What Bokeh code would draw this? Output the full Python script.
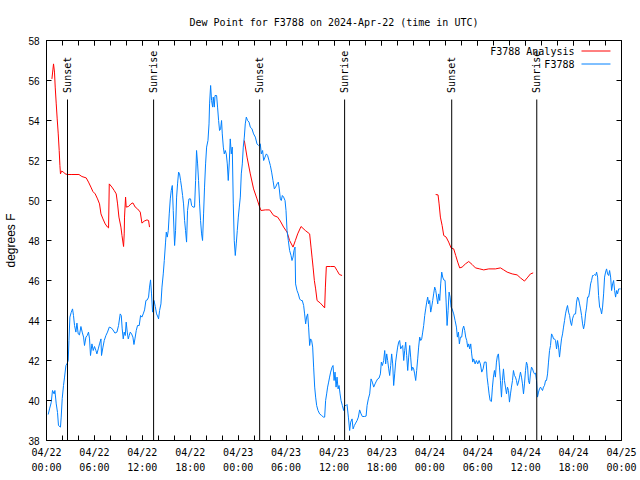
import math
from bokeh.plotting import figure
from bokeh.models import Range1d, FixedTicker, LinearAxis
from bokeh.core.properties import value
from bokeh.embed import file_html
from bokeh.resources import INLINE

# ---------------- data ----------------
TITLE = "Dew Point for F3788 on 2024-Apr-22 (time in UTC)"
Y_LABEL = "degrees F"
SERIES_NAMES = ["F3788 Analysis", "F3788"]

# x is hours since 2024-04-22 00:00 UTC
X_TICK_HOURS = [0, 6, 12, 18, 24, 30, 36, 42, 48, 54, 60, 66, 72]
X_TICK_LABELS = ["04/22\n00:00", "04/22\n06:00", "04/22\n12:00", "04/22\n18:00",
                 "04/23\n00:00", "04/23\n06:00", "04/23\n12:00", "04/23\n18:00",
                 "04/24\n00:00", "04/24\n06:00", "04/24\n12:00", "04/24\n18:00",
                 "04/25\n00:00"]
X_MINOR_HOURS = list(range(0, 73, 2))
Y_TICKS = [38, 40, 42, 44, 46, 48, 50, 52, 54, 56, 58]

SUN_HOURS = [2.63, 13.41, 26.69, 37.33, 50.74, 61.39]
SUN_LABELS = ["Sunset", "Sunrise", "Sunset", "Sunrise", "Sunset", "Sunrise"]

OBS_HOURS = [
    0.21, 0.38, 0.59, 0.75, 0.96, 1.05, 1.22, 1.38, 1.50, 1.75, 1.84, 1.97, 2.13, 2.26, 2.43, 2.56,
    2.72, 2.81, 2.93, 3.09, 3.26, 3.38, 3.51, 3.68, 3.81, 3.97, 4.13, 4.31, 4.47, 4.64, 4.76, 4.94,
    5.10, 5.26, 5.39, 5.51, 5.69, 5.85, 6.01, 6.19, 6.31, 6.48, 6.64, 6.82, 6.89, 7.07, 7.23, 7.44,
    7.64, 7.86, 8.11, 8.32, 8.57, 8.82, 9.02, 9.23, 9.36, 9.48, 9.61, 9.73, 9.86, 9.98, 10.11, 10.24,
    10.36, 10.49, 10.65, 10.82, 10.95, 11.07, 11.24, 11.40, 11.61, 11.78, 11.95, 12.11, 12.28, 12.45,
    12.62, 12.78, 12.90, 13.03, 13.15, 13.28, 13.46, 13.62, 13.78, 13.96, 14.03, 14.16, 14.33, 14.46,
    14.62, 14.75, 14.91, 15.00, 15.12, 15.25, 15.37, 15.50, 15.62, 15.75, 15.87, 16.04, 16.16, 16.29,
    16.41, 16.54, 16.66, 16.79, 16.91, 17.04, 17.16, 17.29, 17.41, 17.54, 17.66, 17.84, 18.04, 18.17,
    18.34, 18.54, 18.67, 18.79, 18.92, 19.04, 19.17, 19.29, 19.42, 19.54, 19.67, 19.79, 19.92, 20.05,
    20.22, 20.35, 20.42, 20.55, 20.67, 20.80, 20.88, 21.01, 21.10, 21.30, 21.42, 21.55, 21.67, 21.80,
    21.92, 22.01, 22.14, 22.26, 22.39, 22.51, 22.64, 22.76, 22.89, 23.01, 23.14, 23.26, 23.39, 23.51,
    23.64, 23.76, 23.89, 24.02, 24.14, 24.27, 24.39, 24.52, 24.64, 24.77, 24.89, 25.02, 25.18, 25.36,
    25.52, 25.73, 25.93, 26.15, 26.36, 26.56, 26.77, 26.90, 27.06, 27.19, 27.36, 27.53, 27.69, 27.86,
    28.03, 28.19, 28.36, 28.53, 28.69, 28.86, 29.03, 29.15, 29.28, 29.40, 29.53, 29.69, 29.87, 29.99,
    30.12, 30.28, 30.44, 30.62, 30.74, 30.87, 30.99, 31.12, 31.19, 31.37, 31.53, 31.70, 31.87, 32.03,
    32.20, 32.32, 32.45, 32.57, 32.70, 32.82, 32.95, 33.07, 33.20, 33.33, 33.45, 33.58, 33.70, 33.83,
    34.00, 34.20, 34.45, 34.67, 34.83, 34.95, 35.08, 35.20, 35.33, 35.45, 35.58, 35.76, 35.88, 36.01,
    36.13, 36.26, 36.38, 36.51, 36.63, 36.76, 36.88, 37.05, 37.21, 37.33, 37.51, 37.63, 37.76, 37.80,
    37.96, 38.09, 38.26, 38.39, 38.55, 38.71, 38.89, 39.05, 39.21, 39.39, 39.55, 39.80, 40.02, 40.14,
    40.30, 40.47, 40.64, 40.80, 40.97, 41.14, 41.31, 41.47, 41.64, 41.81, 41.93, 42.06, 42.22, 42.35,
    42.47, 42.60, 42.72, 42.85, 42.97, 43.10, 43.22, 43.35, 43.47, 43.60, 43.72, 43.85, 43.97, 44.10,
    44.22, 44.35, 44.48, 44.60, 44.73, 44.85, 44.98, 45.10, 45.23, 45.35, 45.48, 45.60, 45.73, 45.85,
    45.98, 46.10, 46.23, 46.35, 46.48, 46.60, 46.73, 46.86, 46.98, 47.11, 47.23, 47.36, 47.48, 47.61,
    47.73, 47.86, 47.98, 48.11, 48.23, 48.36, 48.48, 48.61, 48.74, 48.86, 48.99, 49.11, 49.24, 49.36,
    49.49, 49.61, 49.74, 49.91, 50.04, 50.16, 50.29, 50.41, 50.54, 50.66, 50.79, 50.99, 51.16, 51.33,
    51.45, 51.58, 51.70, 51.83, 51.99, 52.12, 52.24, 52.37, 52.49, 52.62, 52.74, 52.87, 52.99, 53.12,
    53.24, 53.37, 53.49, 53.67, 53.83, 54.00, 54.17, 54.33, 54.50, 54.67, 54.83, 55.05, 55.17, 55.30,
    55.42, 55.55, 55.71, 55.84, 55.96, 56.09, 56.21, 56.34, 56.47, 56.59, 56.72, 56.84, 56.97, 57.09,
    57.22, 57.34, 57.47, 57.60, 57.72, 57.85, 57.97, 58.10, 58.22, 58.35, 58.47, 58.60, 58.72, 58.85,
    58.97, 59.10, 59.23, 59.35, 59.48, 59.60, 59.73, 59.85, 59.98, 60.10, 60.23, 60.35, 60.48, 60.60,
    60.73, 60.86, 60.98, 61.11, 61.23, 61.36, 61.48, 61.61, 61.73, 61.86, 61.98, 62.11, 62.23, 62.36,
    62.49, 62.61, 62.74, 62.86, 62.99, 63.11, 63.24, 63.36, 63.49, 63.61, 63.74, 63.87, 63.99, 64.12,
    64.24, 64.37, 64.49, 64.62, 64.74, 64.87, 64.99, 65.12, 65.24, 65.37, 65.50, 65.62, 65.75, 65.87,
    66.00, 66.12, 66.25, 66.37, 66.50, 66.62, 66.75, 66.87, 67.00, 67.13, 67.25, 67.38, 67.50, 67.63,
    67.75, 67.88, 68.00, 68.13, 68.25, 68.38, 68.50, 68.63, 68.76, 68.88, 69.01, 69.13, 69.26, 69.38,
    69.51, 69.63, 69.76, 69.88, 70.01, 70.13, 70.26, 70.39, 70.51, 70.64, 70.76, 70.89, 71.01, 71.14,
    71.26, 71.39, 71.51, 71.64, 71.76, 71.89,
]
OBS_DEWPT = [
    39.3, 39.58, 39.9, 40.5, 40.33, 40.5, 39.83, 39.4, 38.75, 38.67, 39.17, 40.1, 40.75, 41.17, 41.75, 41.83,
    42.0, 43.0, 44.17, 44.4, 44.58, 44.25, 43.75, 43.42, 43.87, 43.33, 43.28, 43.7, 43.42, 43.17, 42.75, 43.17,
    43.25, 43.42, 43.08, 42.25, 42.83, 42.5, 42.7, 42.5, 42.33, 42.58, 42.83, 43.08, 42.25, 42.67, 43.0, 43.25,
    43.42, 43.67, 43.63, 43.53, 43.37, 43.42, 43.75, 44.33, 44.25, 43.58, 43.08, 43.42, 43.25, 43.92, 43.42, 43.08,
    43.25, 43.42, 43.33, 43.17, 42.8, 43.08, 43.5, 43.75, 43.75, 44.25, 44.17, 44.33, 44.53, 45.0,
    45.03, 45.17, 45.67, 46.03, 45.33, 44.42, 45.0, 44.7, 44.33, 44.17, 44.08, 44.5, 44.83, 45.67,
    46.33, 47.0, 47.92, 48.42, 48.17, 48.5, 49.33, 50.08, 50.5, 50.75, 49.5, 47.75, 48.5, 50.17,
    50.83, 51.42, 51.33, 51.0, 50.67, 50.25, 49.83, 49.0, 48.5, 47.92, 49.5, 50.08, 50.08, 49.75,
    49.67, 49.67, 51.0, 52.5, 51.83, 51.0, 49.83, 49.0, 48.33, 48.0, 49.33, 50.67, 51.83, 52.67,
    53.0, 53.83, 54.83, 55.75, 55.0, 54.67, 55.17, 54.67, 55.25, 55.25, 54.67, 54.0, 53.5, 53.58,
    54.0, 53.33, 52.67, 52.33, 52.5, 52.33, 51.83, 51.0, 51.92, 53.08, 52.33, 52.67, 49.83, 48.0,
    47.25, 47.83, 48.5, 49.17, 49.67, 50.17, 51.33, 51.83, 52.67, 53.17, 53.83, 54.17, 54.0, 53.92,
    53.67, 53.58, 53.33, 53.17, 52.83, 52.75, 52.83, 52.33, 52.5, 52.0, 52.17, 52.33, 52.25, 52.0,
    51.75, 51.42, 51.0, 50.58, 50.67, 50.83, 50.92, 50.58, 50.08, 50.0, 50.25, 50.17, 50.0, 49.5,
    48.5, 48.0, 47.5, 47.25, 47.0, 47.17, 47.5, 47.67, 45.83, 45.5, 45.33, 45.08, 45.0, 45.0,
    44.75, 44.33, 43.83, 44.17, 44.33, 43.67, 42.75, 43.08, 43.0, 42.67, 41.67, 40.67, 40.17, 39.75,
    39.5, 39.33, 39.25, 39.17, 39.17, 40.0, 40.33, 40.67, 40.92, 41.17, 41.42, 41.67, 41.75, 41.0,
    41.42, 40.67, 41.17, 40.58, 40.75, 40.33, 40.0, 39.75, 39.5, 39.75, 39.75, 39.8, 39.33, 39.17,
    38.5, 38.92, 39.08, 38.58, 38.75, 38.87, 39.0, 39.17, 39.53, 39.33, 39.2, 39.2, 39.22, 39.75,
    40.08, 40.33, 41.08, 40.92, 40.67, 40.83, 40.97, 41.08, 41.12, 41.33, 41.92, 41.75, 42.0, 42.5,
    41.83, 42.33, 42.0, 41.58, 41.25, 41.75, 42.33, 41.83, 40.75, 41.33, 41.92, 42.33, 42.67, 42.92,
    43.0, 42.58, 42.67, 42.75, 42.0, 42.5, 42.92, 42.25, 41.5, 42.17, 42.75, 42.17, 41.5, 41.67,
    41.58, 41.33, 41.0, 41.5, 42.08, 42.67, 43.17, 43.0, 43.08, 43.42, 43.75, 44.25, 44.58, 44.92,
    45.17, 44.83, 45.0, 44.42, 44.67, 45.0, 45.33, 45.67, 45.5, 45.17, 44.83, 45.33, 45.0, 45.83,
    46.42, 46.17, 46.03, 46.0, 44.92, 43.75, 44.5, 45.42, 45.17, 44.67, 44.58, 44.33, 44.0, 43.67,
    43.17, 43.42, 42.83, 43.17, 43.17, 43.58, 43.72, 43.5, 43.17, 43.0, 42.67, 42.83, 42.58, 42.83,
    42.33, 41.92, 42.08, 41.83, 42.0, 41.83, 42.0, 41.83, 41.42, 41.58, 41.92, 41.92, 41.17, 40.75,
    40.33, 40.0, 39.95, 40.67, 41.17, 41.5, 41.17, 41.92, 42.25, 42.33, 41.67, 41.0, 40.17, 41.0,
    41.58, 41.0, 40.67, 40.33, 40.67, 40.5, 39.92, 40.33, 40.67, 41.0, 41.5, 41.25, 41.17, 41.0,
    40.75, 40.92, 41.17, 41.42, 41.17, 40.83, 40.33, 40.83, 41.5, 41.92, 41.75, 41.0, 40.83, 41.33,
    41.67, 41.58, 41.42, 41.33, 41.37, 41.0, 40.17, 40.42, 40.58, 40.67, 40.58, 40.5, 40.67, 40.75,
    41.0, 41.0, 41.33, 41.92, 42.5, 42.75, 43.33, 43.25, 43.08, 43.08, 43.0, 42.58, 43.0, 42.67,
    42.17, 42.67, 43.08, 43.33, 43.67, 44.0, 44.33, 44.58, 44.75, 44.42, 44.25, 43.92, 43.75, 44.08,
    44.25, 44.33, 44.33, 44.92, 45.17, 45.08, 44.83, 44.58, 44.25, 43.83, 43.58, 43.83, 44.33, 44.67,
    45.17, 45.17, 45.42, 45.83, 46.0, 46.25, 46.25, 46.3, 46.25, 46.42, 46.17, 45.25, 44.67, 44.58,
    44.33, 44.67, 45.33, 46.17, 46.42, 46.58, 46.33, 46.25, 46.5, 46.17, 45.5, 45.83, 46.0, 45.5,
    45.17, 45.5, 45.33, 45.58, 45.58, 45.58,
]

NAN = float("nan")
ANL_HOURS = [
    0.68, 0.80, 0.88, 1.00, 1.09, 1.22, 1.34, 1.47, 1.59, 1.68, 1.75, 1.88, 2.13, 2.34, 2.63, 3.18,
    4.06, 4.43, 4.97, 5.26, 5.56, 5.81, 6.10, 6.39, 6.64, 6.82, 7.07, 7.35, 7.64, 7.77, 7.86, 8.19,
    8.48, 8.73, 8.90, 9.07, 9.32, 9.45, 9.65, 9.73, 9.77, 9.90, 9.98, 10.27, 10.57, 10.82, 11.11,
    11.40, 11.74, 11.95, 12.24, 12.58, 12.78, 12.90,
    NAN,
    24.77, 25.11, 25.52, 25.93, 26.36, 26.69, 26.86, 27.40, 27.94, 28.44, 28.94, 29.28, 29.69,
    30.12, 30.44, 30.87, 31.16, 31.45, 31.87, 32.41, 32.95, 33.12, 33.25, 33.38, 33.54, 33.70,
    33.88, 34.29, 34.83, 34.92, 35.04, 35.54, 36.08, 36.38, 36.67, 37.01,
    NAN,
    48.73, 49.03, 49.16, 49.32, 49.54, 49.74, 50.04, 50.36, 50.66, 50.99, 51.24, 51.49, 51.74,
    52.04, 52.46, 52.87, 53.30, 53.71, 54.25, 54.75, 55.38, 56.21, 56.84, 57.25, 57.68, 58.31,
    58.93, 59.35, 59.85, 60.19, 60.60, 60.94,
]
ANL_DEWPT = [
    56.08, 56.53, 56.83, 56.42, 55.67, 54.83, 54.08, 53.33, 52.5, 51.75, 51.33, 51.47, 51.42, 51.33, 51.3, 51.3,
    51.3, 51.2, 51.13, 50.92, 50.67, 50.45, 50.33, 50.08, 49.83, 49.33, 49.08, 48.83, 48.67, 48.63, 50.83, 50.67,
    50.5, 50.33, 49.83, 49.17, 48.67, 48.25, 47.7, 48.33, 49.17, 50.17, 49.67, 49.7, 49.83, 49.88, 49.67,
    49.58, 49.42, 48.87, 48.97, 49.03, 49.0, 48.67,
    NAN,
    53.0, 52.17, 51.33, 50.58, 50.08, 49.67, 49.5, 49.53, 49.53, 49.25, 49.17, 48.97, 48.67,
    48.42, 48.0, 47.67, 48.0, 48.33, 48.7, 48.5, 48.33, 47.67, 47.17, 46.67, 46.0, 45.58,
    45.0, 44.87, 44.63, 45.67, 46.7, 46.7, 46.7, 46.5, 46.3, 46.25,
    NAN,
    50.3, 50.28, 49.83, 49.17, 48.75, 48.25, 48.17, 47.92, 47.63, 47.58, 47.25, 46.92, 46.63,
    46.67, 46.83, 46.95, 46.8, 46.63, 46.58, 46.53, 46.58, 46.58, 46.63, 46.53, 46.42, 46.33,
    46.28, 46.13, 45.97, 46.13, 46.33, 46.38,
]

# ---------------- styling ----------------
MONO = "DejaVu Sans Mono"
SANS = "Liberation Sans"
RED = "#ff0000"
BLUE = "#0080ff"

X_MIN, X_MAX = 0, 72
Y_MIN, Y_MAX = 38, 58

p = figure(width=640, height=480, output_backend="svg", toolbar_location=None,
           x_range=Range1d(X_MIN, X_MAX), y_range=Range1d(Y_MIN, Y_MAX),
           min_border_left=46, min_border_right=19, min_border_top=40, min_border_bottom=40,
           x_axis_type=None, y_axis_type=None)
p.grid.visible = False
p.outline_line_color = "black"
p.outline_line_alpha = 1.0
p.outline_line_width = 1
p.background_fill_color = "white"
p.border_fill_color = "white"

p.title.text = TITLE
p.title.align = "center"
p.title.text_font = MONO
p.title.text_font_size = "10px"
p.title.text_font_style = "normal"
p.title.text_color = "black"
p.title.standoff = 26

xt = FixedTicker(ticks=X_TICK_HOURS, minor_ticks=X_MINOR_HOURS)
yt = FixedTicker(ticks=Y_TICKS, minor_ticks=[])


def style_x(ax, labels):
    ax.ticker = xt
    ax.axis_line_color = None
    ax.major_tick_in = 5
    ax.major_tick_out = 0
    ax.minor_tick_in = 5
    ax.minor_tick_out = 0
    ax.major_tick_line_color = "black"
    ax.minor_tick_line_color = "black"
    ax.major_label_text_font = MONO
    ax.major_label_text_font_size = "10px"
    ax.major_label_text_color = "black"
    if labels:
        ax.major_label_overrides = {h: t for h, t in zip(X_TICK_HOURS, X_TICK_LABELS)}
        ax.major_label_text_line_height = 1.4
        ax.major_label_standoff = 6
    else:
        ax.major_label_overrides = {h: "" for h in X_TICK_HOURS}
        ax.major_label_standoff = 0


def style_y(ax, labels):
    ax.ticker = yt
    ax.axis_line_color = None
    ax.major_tick_in = 5
    ax.major_tick_out = 0
    ax.minor_tick_line_color = None
    ax.major_tick_line_color = "black"
    ax.major_label_text_font = SANS
    ax.major_label_text_font_size = "10px"
    ax.major_label_text_color = "black"
    if labels:
        ax.major_label_standoff = 7
        ax.axis_label = Y_LABEL
        ax.axis_label_text_font = SANS
        ax.axis_label_text_font_size = "12px"
        ax.axis_label_text_font_style = "normal"
        ax.axis_label_text_color = "black"
        ax.axis_label_standoff = 7
    else:
        ax.major_label_overrides = {t: "" for t in Y_TICKS}
        ax.major_label_standoff = 0


xb = LinearAxis(); style_x(xb, True); p.add_layout(xb, "below")
xa = LinearAxis(); style_x(xa, False); p.add_layout(xa, "above")
yl = LinearAxis(); style_y(yl, True); p.add_layout(yl, "left")
yr = LinearAxis(); style_y(yr, False); p.add_layout(yr, "right")

# series
p.line(ANL_HOURS, ANL_DEWPT, line_color=RED, line_width=1)
p.line(OBS_HOURS, OBS_DEWPT, line_color=BLUE, line_width=1)

# sunrise / sunset markers
SUN_LINE_TOP = 55.05
SUN_TEXT_Y = 55.38
p.segment(x0=SUN_HOURS, y0=[Y_MIN] * len(SUN_HOURS), x1=SUN_HOURS, y1=[SUN_LINE_TOP] * len(SUN_HOURS),
          line_color="black", line_width=1)
p.text(x=SUN_HOURS, y=[SUN_TEXT_Y] * len(SUN_HOURS), text=SUN_LABELS, angle=math.pi / 2,
       text_font=value(MONO), text_font_size=value("10px"), text_align="left",
       text_baseline="middle", text_color="black")

# key (text on the left, sample line on the right, as in the original)
KEY_TEXT_X = 66.11
KEY_LINE_X0, KEY_LINE_X1 = 66.99, 70.62
KEY_Y = [57.475, 56.825]
p.text(x=[KEY_TEXT_X] * 2, y=KEY_Y, text=SERIES_NAMES, text_font=value(MONO),
       text_font_size=value("10px"), text_align="right", text_baseline="middle", text_color="black")
p.segment(x0=[KEY_LINE_X0] * 2, y0=KEY_Y, x1=[KEY_LINE_X1] * 2, y1=KEY_Y,
          line_color=[RED, BLUE], line_width=1)

open("out.html", "w").write(file_html(p, INLINE))
